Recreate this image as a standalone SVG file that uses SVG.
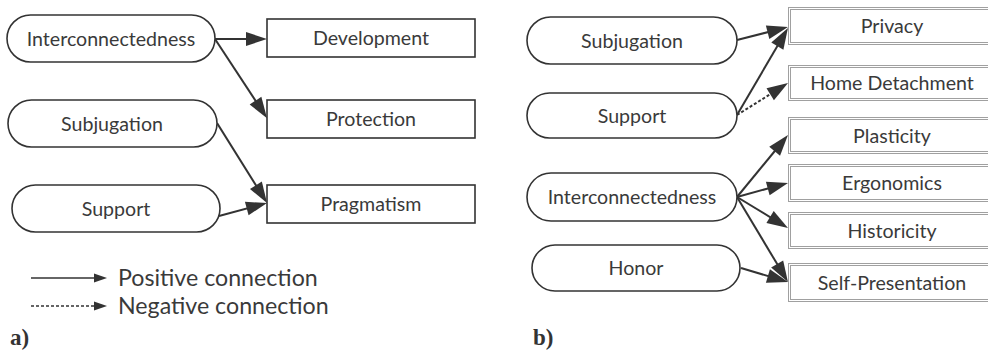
<svg xmlns="http://www.w3.org/2000/svg" width="988" height="355" viewBox="0 0 988 355">
<style>
.pill{fill:#fff;stroke:#333;stroke-width:1.6}
.box{fill:#fff;stroke:#333;stroke-width:1.6}
.dbo{fill:#fff;stroke:#a0a0a0;stroke-width:1}
.t{font-family:Lato,"Open Sans",sans-serif;font-size:19.6px;fill:#3a3a3a;text-anchor:middle}
.lg{font-family:Lato,"Open Sans",sans-serif;font-size:23.2px;fill:#3a3a3a}
.lab{font-family:"Liberation Serif",serif;font-size:23px;font-weight:bold;fill:#333}
.c{stroke:#333;stroke-width:2;fill:none}
.d{stroke-dasharray:3 2}
</style>
<defs>
<marker id="ah" markerUnits="userSpaceOnUse" markerWidth="21" markerHeight="14" refX="10" refY="7" orient="auto" overflow="visible">
<path d="M0,0 L21,7 L0,14 z" fill="#333"/>
</marker>
<marker id="al" markerUnits="userSpaceOnUse" markerWidth="13" markerHeight="9" refX="6" refY="4.5" orient="auto" overflow="visible">
<path d="M0,0 L13,4.5 L0,9 z" fill="#333"/>
</marker>
</defs>
<rect width="988" height="355" fill="#fff"/>

<g id="connectors">
<line class="c" x1="215" y1="39" x2="256" y2="39" marker-end="url(#ah)"/>
<line class="c" x1="215" y1="39" x2="261" y2="109" marker-end="url(#ah)"/>
<line class="c" x1="217" y1="123" x2="261.2" y2="193.7" marker-end="url(#ah)"/>
<line class="c" x1="219" y1="216" x2="256.4" y2="205.9" marker-end="url(#ah)"/>
<line class="c" x1="737" y1="40" x2="777.3" y2="29.7" marker-end="url(#ah)"/>
<line class="c" x1="737" y1="115" x2="782.4" y2="37.5" marker-end="url(#ah)"/>
<line class="c d" x1="737" y1="115" x2="778.7" y2="88.9" marker-end="url(#ah)"/>
<line class="c" x1="737" y1="197" x2="781" y2="143.5" marker-end="url(#ah)"/>
<line class="c" x1="737" y1="197" x2="777.4" y2="185.9" marker-end="url(#ah)"/>
<line class="c" x1="737" y1="197" x2="778.6" y2="222.3" marker-end="url(#ah)"/>
<line class="c" x1="737" y1="197" x2="782.3" y2="272.6" marker-end="url(#ah)"/>
<line class="c" x1="741" y1="268" x2="777.5" y2="278.9" marker-end="url(#ah)"/>
</g>

<g id="a-interconnectedness"><rect class="pill" x="7" y="15" width="208" height="47" rx="23.5"/><text class="t" x="111" y="45.5">Interconnectedness</text></g>
<g id="a-subjugation"><rect class="pill" x="8" y="100" width="209" height="47" rx="23.5"/><text class="t" x="112" y="130.5">Subjugation</text></g>
<g id="a-support"><rect class="pill" x="12" y="185" width="208" height="47" rx="23.5"/><text class="t" x="116" y="215.5">Support</text></g>
<g id="a-development"><rect class="box" x="267" y="19" width="208" height="38"/><text class="t" x="371" y="45">Development</text></g>
<g id="a-protection"><rect class="box" x="267" y="100" width="208" height="38"/><text class="t" x="371" y="126">Protection</text></g>
<g id="a-pragmatism"><rect class="box" x="267" y="185" width="208" height="38"/><text class="t" x="371" y="211">Pragmatism</text></g>

<g id="legend">
<line stroke="#333" stroke-width="1.5" x1="31" y1="278" x2="100" y2="278" marker-end="url(#al)"/>
<line stroke="#333" stroke-width="1.5" stroke-dasharray="3 2" x1="31" y1="306" x2="100" y2="306" marker-end="url(#al)"/>
<text class="lg" x="118" y="286">Positive connection</text>
<text class="lg" x="118" y="314">Negative connection</text>
</g>
<text class="lab" x="10" y="345">a)</text>

<g id="b-subjugation"><rect class="pill" x="527" y="17" width="210" height="47" rx="23.5"/><text class="t" x="632" y="47.5">Subjugation</text></g>
<g id="b-support"><rect class="pill" x="527" y="93" width="210" height="45" rx="22.5"/><text class="t" x="632" y="122.5">Support</text></g>
<g id="b-interconnectedness"><rect class="pill" x="527" y="173" width="210" height="48" rx="24"/><text class="t" x="632" y="204">Interconnectedness</text></g>
<g id="b-honor"><rect class="pill" x="532" y="245" width="208" height="46" rx="23"/><text class="t" x="636" y="275">Honor</text></g>

<g id="b-privacy"><rect class="dbo" x="788.5" y="7.5" width="208" height="37"/><rect class="dbo" x="790.5" y="9.5" width="204" height="33"/><text class="t" x="892" y="33">Privacy</text></g>
<g id="b-home"><rect class="dbo" x="788.5" y="65.5" width="208" height="35"/><rect class="dbo" x="790.5" y="67.5" width="204" height="31"/><text class="t" x="892" y="90">Home Detachment</text></g>
<g id="b-plasticity"><rect class="dbo" x="788.5" y="117.5" width="208" height="36"/><rect class="dbo" x="790.5" y="119.5" width="204" height="32"/><text class="t" x="892" y="142.5">Plasticity</text></g>
<g id="b-ergonomics"><rect class="dbo" x="788.5" y="164.5" width="208" height="37"/><rect class="dbo" x="790.5" y="166.5" width="204" height="33"/><text class="t" x="892" y="189.5">Ergonomics</text></g>
<g id="b-historicity"><rect class="dbo" x="788.5" y="212.5" width="208" height="36"/><rect class="dbo" x="790.5" y="214.5" width="204" height="32"/><text class="t" x="892" y="237.5">Historicity</text></g>
<g id="b-selfpres"><rect class="dbo" x="788.5" y="263.5" width="208" height="38"/><rect class="dbo" x="790.5" y="265.5" width="204" height="34"/><text class="t" x="892" y="289.5">Self-Presentation</text></g>
<text class="lab" x="533" y="345">b)</text>
</svg>
